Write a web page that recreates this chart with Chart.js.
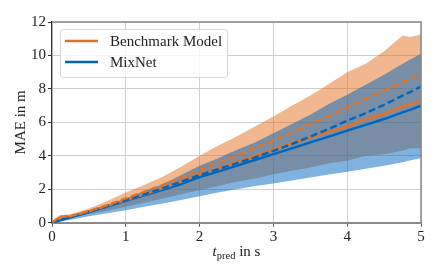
<!DOCTYPE html>
<html>
<head>
<meta charset="utf-8">
<script src="https://cdn.jsdelivr.net/npm/chart.js@4/dist/chart.umd.min.js"></script>
<style>
html,body{margin:0;padding:0;background:#fff;}
#wrap{width:441px;height:276px;}
</style>
</head>
<body>
<div id="wrap"><canvas id="c" width="441" height="276"></canvas></div>
<script>
// prediction horizon in s
const tPred = [0, 0.1, 0.25, 0.5, 0.75, 1, 1.25, 1.5, 1.75, 2, 2.25, 2.5, 2.75, 3, 3.25, 3.5, 3.75, 4, 4.25, 4.5, 4.75, 4.85, 5];
// Benchmark Model
const benchUpper = [0, 0.45, 0.5, 0.85, 1.3, 1.8, 2.25, 2.75, 3.35, 4.0, 4.6, 5.15, 5.75, 6.35, 7.0, 7.6, 8.3, 9.0, 9.5, 10.25, 11.2, 11.1, 11.25];
const benchLower = [0, 0.1, 0.25, 0.5, 0.72, 0.96, 1.2, 1.45, 1.7, 1.96, 2.2, 2.45, 2.65, 2.9, 3.1, 3.3, 3.55, 3.7, 4.0, 4.1, 4.3, 4.45, 4.45];
const benchDashed = [0, 0.35, 0.4, 0.7, 1.05, 1.45, 1.85, 2.25, 2.7, 3.15, 3.6, 4.0, 4.45, 4.9, 5.4, 5.9, 6.35, 6.9, 7.4, 7.9, 8.4, 8.6, 8.9];
const benchSolid = [0, 0.3, 0.38, 0.68, 1.0, 1.35, 1.7, 2.05, 2.45, 2.9, 3.25, 3.65, 4.0, 4.4, 4.75, 5.1, 5.45, 5.75, 6.2, 6.5, 6.95, 7.05, 7.3];
// MixNet
const mixUpper = [0, 0.15, 0.35, 0.7, 1.05, 1.45, 1.9, 2.3, 2.85, 3.4, 3.85, 4.35, 4.8, 5.35, 5.9, 6.45, 7.1, 7.65, 8.25, 8.85, 9.5, 9.75, 10.1];
const mixLower = [0, 0.07, 0.18, 0.38, 0.57, 0.75, 0.95, 1.15, 1.35, 1.58, 1.8, 2.0, 2.2, 2.35, 2.52, 2.7, 2.88, 3.05, 3.22, 3.4, 3.62, 3.72, 3.87];
const mixDashed = [0, 0.15, 0.33, 0.66, 1.0, 1.35, 1.7, 2.05, 2.45, 2.85, 3.2, 3.55, 3.9, 4.3, 4.7, 5.15, 5.6, 6.1, 6.55, 7.05, 7.6, 7.8, 8.15];
const mixSolid = [0, 0.12, 0.32, 0.64, 0.97, 1.3, 1.63, 1.97, 2.3, 2.72, 3.05, 3.4, 3.75, 4.1, 4.45, 4.8, 5.15, 5.5, 5.85, 6.2, 6.6, 6.75, 7.0];

const xTicks = [0, 1, 2, 3, 4, 5];
const yTicks = [0, 2, 4, 6, 8, 10, 12];
const seriesNames = ['Benchmark Model', 'MixNet'];
const yTitle = 'MAE in m';
const xTitleParts = ['t', 'pred', ' in s'];

const ORANGE = '#e37222';
const BLUE = '#0065bd';
const SERIF = "'Liberation Serif', 'DejaVu Serif', serif";

const pts = arr => arr.map((v, i) => ({x: tPred[i], y: v}));

function band(data, color, order, fillTarget) {
  return {
    data: pts(data), borderWidth: 0, pointRadius: 0, borderColor: 'transparent',
    backgroundColor: color, fill: fillTarget, order: order, tension: 0
  };
}
function line(label, data, color, dashed) {
  return {
    label: label, data: pts(data), borderColor: color, borderWidth: 2.4,
    pointRadius: 0, fill: false, order: 1, tension: 0,
    borderDash: dashed ? [7, 3.5] : [], borderCapStyle: 'butt'
  };
}

const datasets = [
  band(benchUpper, 'rgba(227,114,34,0.5)', 3, 1),
  band(benchLower, 'rgba(227,114,34,0.5)', 3, false),
  band(mixUpper, 'rgba(0,101,189,0.5)', 2, 3),
  band(mixLower, 'rgba(0,101,189,0.5)', 2, false),
  line(seriesNames[0], benchDashed, ORANGE, true),
  line(seriesNames[1], mixDashed, BLUE, true),
  line(seriesNames[0], benchSolid, ORANGE, false),
  line(seriesNames[1], mixSolid, BLUE, false)
];

const customDraw = {
  id: 'customDraw',
  afterDatasetsDraw(chart) {
    const ctx = chart.ctx;
    const a = chart.chartArea;
    ctx.save();
    // top and right frame
    ctx.strokeStyle = '#8a8a8a';
    ctx.lineWidth = 1.5;
    ctx.beginPath();
    ctx.moveTo(a.left, a.top); ctx.lineTo(a.right, a.top); ctx.lineTo(a.right, a.bottom);
    ctx.stroke();
    // legend
    const lx = a.left + 8, ly = a.top + 7, lw = 167, lh = 48;
    ctx.beginPath();
    ctx.roundRect(lx + 0.5, ly + 0.5, lw, lh, 3);
    ctx.fillStyle = 'rgba(255,255,255,0.8)';
    ctx.fill();
    ctx.strokeStyle = '#d8d8d8';
    ctx.lineWidth = 1;
    ctx.stroke();
    const cols = [ORANGE, BLUE];
    ctx.font = '15px ' + SERIF;
    ctx.textBaseline = 'middle';
    ctx.textAlign = 'left';
    for (let i = 0; i < 2; i++) {
      const yy = ly + 12 + i * 21;
      ctx.strokeStyle = cols[i];
      ctx.lineWidth = 2.4;
      ctx.beginPath();
      ctx.moveTo(lx + 5, yy); ctx.lineTo(lx + 38, yy);
      ctx.stroke();
      ctx.fillStyle = '#222';
      ctx.fillText(seriesNames[i], lx + 50, yy + 1);
    }
    // x title with subscript
    const f1 = 'italic 15px ' + SERIF, f2 = '10.5px ' + SERIF, f3 = '15px ' + SERIF;
    ctx.textBaseline = 'alphabetic';
    ctx.font = f1; const w1 = ctx.measureText(xTitleParts[0]).width;
    ctx.font = f2; const w2 = ctx.measureText(xTitleParts[1]).width;
    ctx.font = f3; const w3 = ctx.measureText(xTitleParts[2]).width;
    let x0 = (a.left + a.right) / 2 - (w1 + w2 + w3) / 2;
    const base = 256;
    ctx.fillStyle = '#222';
    ctx.font = f1; ctx.fillText(xTitleParts[0], x0, base); x0 += w1;
    ctx.font = f2; ctx.fillText(xTitleParts[1], x0, base + 3); x0 += w2;
    ctx.font = f3; ctx.fillText(xTitleParts[2], x0, base);
    ctx.restore();
  }
};

new Chart(document.getElementById('c'), {
  type: 'line',
  data: {datasets: datasets},
  options: {
    responsive: false,
    animation: false,
    devicePixelRatio: 1,
    layout: {padding: {top: 22, right: 20, left: 0, bottom: 0}},
    plugins: {legend: {display: false}, tooltip: {enabled: false}},
    scales: {
      x: {
        type: 'linear', min: 0, max: 5,
        afterBuildTicks: s => { s.ticks = xTicks.map(v => ({value: v})); },
        afterFit: s => { s.height = 53.3; },
        grid: {color: '#cfcfcf', lineWidth: 1, tickLength: 4, tickColor: '#555', drawTicks: true},
        border: {color: '#8a8a8a', width: 2},
        ticks: {font: {family: SERIF, size: 15}, color: '#222', padding: 1, maxRotation: 0}
      },
      y: {
        type: 'linear', min: 0, max: 12,
        afterBuildTicks: s => { s.ticks = yTicks.map(v => ({value: v})); },
        afterFit: s => { s.width = 52; },
        grid: {color: '#cfcfcf', lineWidth: 1, tickLength: 4, tickColor: '#333', drawTicks: true},
        border: {color: '#333', width: 1.2},
        ticks: {font: {family: SERIF, size: 15}, color: '#222', padding: 2},
        title: {display: true, text: yTitle, font: {family: SERIF, size: 15}, color: '#222', padding: {top: 12, bottom: 0}}
      }
    }
  },
  plugins: [customDraw]
});
</script>
</body>
</html>
